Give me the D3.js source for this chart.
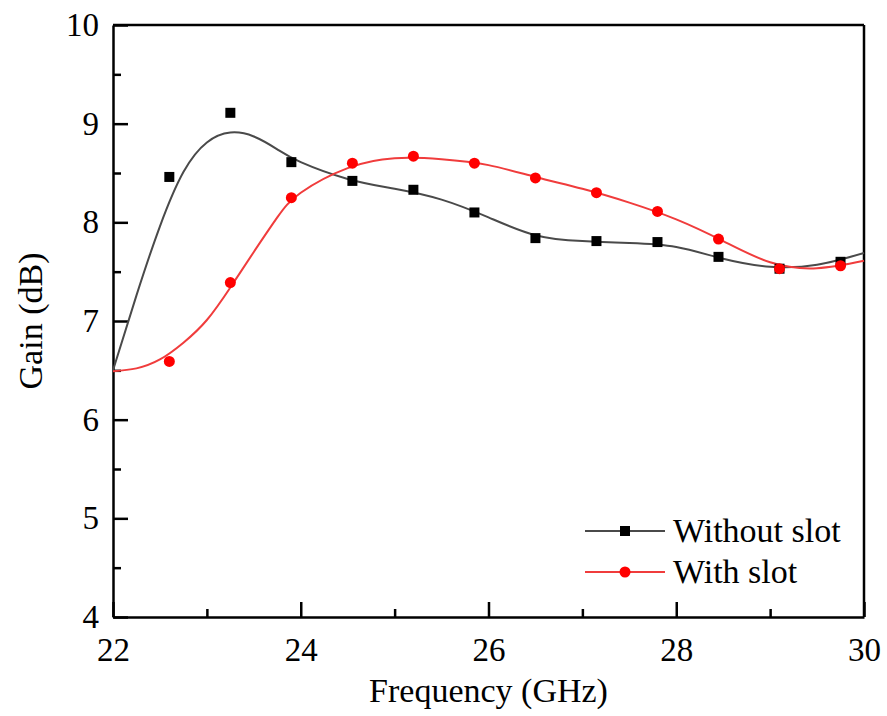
<!DOCTYPE html>
<html>
<head>
<meta charset="utf-8">
<script src="https://cdn.jsdelivr.net/npm/d3@7"></script>
<style>
  body { margin: 0; background: #fff; }
  text { font-family: "Liberation Serif", "Times New Roman", serif; }
</style>
</head>
<body>
<svg id="chart" width="887" height="716"></svg>
<script>
// measured points
const freq = [22.6, 23.25, 23.9, 24.55, 25.2, 25.85, 26.5, 27.15, 27.8, 28.45, 29.1, 29.75];
const gainWithout = [8.46, 9.11, 8.61, 8.42, 8.33, 8.10, 7.84, 7.81, 7.80, 7.65, 7.53, 7.60];
const gainWith = [6.59, 7.39, 8.25, 8.60, 8.67, 8.60, 8.45, 8.30, 8.11, 7.83, 7.53, 7.56];

// fitted curves
const fitFreq = [22, 22.25, 22.5, 22.75, 23, 23.25, 23.5, 23.75, 24, 24.5, 25, 25.5, 26, 26.5, 27, 27.5, 28, 28.5, 29, 29.5, 30];
const fitWithout = [6.50, 7.26, 7.96, 8.51, 8.81, 8.91, 8.87, 8.74, 8.61, 8.44, 8.34, 8.23, 8.05, 7.87, 7.81, 7.79, 7.75, 7.63, 7.55, 7.57, 7.69];
const fitWith = [6.49, 6.52, 6.61, 6.78, 7.01, 7.34, 7.70, 8.05, 8.30, 8.55, 8.65, 8.64, 8.58, 8.46, 8.34, 8.20, 8.03, 7.81, 7.595, 7.535, 7.61];

const xTicks = [22, 24, 26, 28, 30];
const yTicks = [4, 5, 6, 7, 8, 9, 10];
const seriesNames = ["Without slot", "With slot"];

const margin = { left: 113, top: 25, right: 23, bottom: 99 };
const width = 887 - margin.left - margin.right;
const height = 716 - margin.top - margin.bottom;

const svg = d3.select("#chart");
const g = svg.append("g").attr("transform", "translate(" + margin.left + "," + margin.top + ")");

const x = d3.scaleLinear().domain([22, 30]).range([0, width]);
const y = d3.scaleLinear().domain([4, 10]).range([height, 0]);

const tickFont = 33;
const labelFont = 34;

// minor ticks
const xMinor = d3.range(23, 30, 2);
const yMinor = d3.range(4.5, 10, 1);

// bottom axis
const xAxis = g.append("g")
  .attr("transform", "translate(0," + height + ")")
  .call(d3.axisBottom(x).tickValues(xTicks).tickFormat(d3.format("d")).tickSizeInner(-15).tickSizeOuter(0).tickPadding(21));
xAxis.selectAll("text").style("font-size", tickFont + "px").attr("fill", "#000");
g.append("g").attr("transform", "translate(0," + height + ")")
  .call(d3.axisBottom(x).tickValues(xMinor).tickFormat("").tickSizeInner(-8).tickSizeOuter(0))
  .select(".domain").remove();

// left axis
const yAxis = g.append("g")
  .call(d3.axisLeft(y).tickValues(yTicks).tickFormat(d3.format("d")).tickSizeInner(-15).tickSizeOuter(0).tickPadding(14));
yAxis.selectAll("text").style("font-size", tickFont + "px").attr("fill", "#000");
g.append("g")
  .call(d3.axisLeft(y).tickValues(yMinor).tickFormat("").tickSizeInner(-8).tickSizeOuter(0))
  .select(".domain").remove();

// top and right frame
g.append("line").attr("x1", 0).attr("x2", width).attr("y1", 0).attr("y2", 0);
g.append("line").attr("x1", width).attr("x2", width).attr("y1", 0).attr("y2", height);

g.selectAll(".domain, .tick line, line").attr("stroke", "#000").attr("stroke-width", 2.5);

// fitted lines
const line = d3.line()
  .x((d, i) => x(fitFreq[i]))
  .y(d => y(d))
  .curve(d3.curveNatural);

g.append("path").datum(fitWithout)
  .attr("d", line).attr("fill", "none").attr("stroke", "#4a4a4a").attr("stroke-width", 2);
g.append("path").datum(fitWith)
  .attr("d", line).attr("fill", "none").attr("stroke", "#f03c3c").attr("stroke-width", 2);

// markers
g.selectAll(".sq").data(gainWithout).enter().append("rect")
  .attr("x", (d, i) => x(freq[i]) - 5)
  .attr("y", d => y(d) - 5)
  .attr("width", 10).attr("height", 10)
  .attr("fill", "#000");
g.selectAll(".dot").data(gainWith).enter().append("circle")
  .attr("cx", (d, i) => x(freq[i]))
  .attr("cy", d => y(d))
  .attr("r", 5.5)
  .attr("fill", "#ff0000");

// legend
const legend = svg.append("g").attr("transform", "translate(585,531)");
legend.append("line").attr("x1", 0).attr("x2", 80).attr("y1", 0).attr("y2", 0).attr("stroke", "#4a4a4a").attr("stroke-width", 2);
legend.append("rect").attr("x", 35).attr("y", -5).attr("width", 10).attr("height", 10).attr("fill", "#000");
legend.append("text").attr("x", 88).attr("y", 11).style("font-size", labelFont + "px").text(seriesNames[0]);
legend.append("line").attr("x1", 0).attr("x2", 80).attr("y1", 41).attr("y2", 41).attr("stroke", "#f03c3c").attr("stroke-width", 2);
legend.append("circle").attr("cx", 40).attr("cy", 41).attr("r", 5.5).attr("fill", "#ff0000");
legend.append("text").attr("x", 88).attr("y", 52).style("font-size", labelFont + "px").text(seriesNames[1]);

// axis titles
svg.append("text")
  .attr("x", margin.left + width / 2).attr("y", 702)
  .attr("text-anchor", "middle").style("font-size", labelFont + "px")
  .text("Frequency (GHz)");
svg.append("text")
  .attr("transform", "translate(42," + (margin.top + height / 2) + ") rotate(-90)")
  .attr("text-anchor", "middle").style("font-size", labelFont + "px")
  .text("Gain (dB)");
</script>
</body>
</html>
